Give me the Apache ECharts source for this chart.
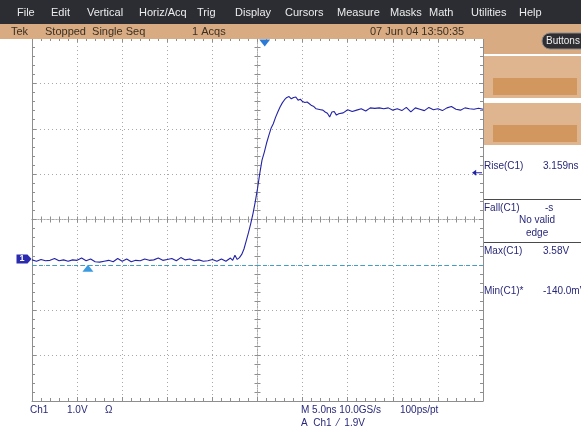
<!DOCTYPE html>
<html><head><meta charset="utf-8">
<script src="https://cdn.jsdelivr.net/npm/echarts@6/dist/echarts.min.js"></script>
<style>html,body{margin:0;padding:0;background:#fff}#c{width:581px;height:428px}</style>
</head><body><div id="c"></div>
<script>
// ---- data (time in ns, relative to screen centre; voltage in V) ----
const timeNs = [
 -25,-24.5,-24,-23.5,-23,-22.5,-22,-21.5,-21,-20.5,-20,-19.5,-19,-18.5,-18,-17.5,-17,-16.5,-16,-15.5,
 -15,-14.5,-14,-13.5,-13,-12.5,-12,-11.5,-11,-10.5,-10,-9.5,-9,-8.5,-8,-7.5,-7,-6.5,-6,-5.5,
 -5,-4.5,-4,-3.5,-3,-2.75,-2.5,-2.25,-2,-1.75,-1.5,-1.25,-1,-0.75,-0.5,-0.25,0,0.25,0.5,0.75,
 1,1.25,1.5,1.75,2,2.25,2.5,2.75,3,3.25,3.5,3.75,4,4.25,4.5,4.75,5,5.25,5.5,5.75,
 6,6.25,6.5,6.75,7,7.25,7.5,7.75,8,8.25,8.5,8.75,9,9.5,10,10.5,11,11.5,12,12.5,
 13,13.5,14,14.5,15,15.5,16,16.5,17,17.5,18,18.5,19,19.5,20,20.5,21,21.5,22,22.5,
 23,23.5,24,24.5,25
];
const voltsV = [
 -0.02,-0.05,-0.01,-0.04,-0.03,0.01,-0.04,-0.02,-0.05,-0.02,-0.03,0.02,-0.04,0.0,-0.06,-0.07,-0.05,-0.03,-0.06,0.01,
 -0.05,0.0,-0.06,-0.03,-0.04,0.0,-0.03,-0.02,0.02,-0.03,-0.01,0.01,-0.04,0.03,-0.02,0.0,-0.04,-0.02,-0.05,-0.04,
 -0.01,-0.05,0.0,-0.05,0.02,-0.03,0.08,-0.01,0.03,0.10,0.22,0.40,0.58,0.78,1.00,1.26,1.55,1.88,2.18,2.35,
 2.55,2.72,2.88,2.98,3.12,3.24,3.35,3.44,3.51,3.56,3.58,3.53,3.56,3.57,3.50,3.52,3.47,3.45,3.46,3.42,
 3.38,3.36,3.31,3.30,3.29,3.28,3.24,3.21,3.13,3.24,3.25,3.17,3.20,3.22,3.29,3.25,3.28,3.31,3.26,3.33,
 3.32,3.33,3.31,3.33,3.28,3.31,3.27,3.34,3.24,3.33,3.30,3.27,3.34,3.29,3.31,3.27,3.33,3.36,3.30,3.28,
 3.33,3.31,3.30,3.32,3.30
];
const minLevelV = -0.14;      // Min(C1)
const minAtNs = -18.8;
const trigLevelV = 1.9;       // A Ch1 / 1.9V
const trigPosNs = 0.8;
const voltRange = [-3.13, 4.87];  // 8 div at 1.0 V/div, ground offset
const timeRange = [-25, 25];      // 10 div at 5.0 ns/div

const menuItems = [['File',17],['Edit',51],['Vertical',87],['Horiz/Acq',139],['Trig',197],['Display',235],['Cursors',285],['Measure',337],['Masks',390],['Math',429],['Utilities',471],['Help',519]];

const gridC = '#a8a8a8', borderC = '#8e8e8e';
function hideAll(o){return Object.assign({axisLabel:{show:false},splitLine:{show:false},axisTick:{show:false},minorTick:{show:false}},o);}
const tickStyle = {lineStyle:{color:borderC,width:1}};

const xAxes = [
 hideAll({type:'value',min:timeRange[0],max:timeRange[1],interval:5,position:'bottom',
   axisLine:{onZero:false,lineStyle:{color:borderC}},
   axisTick:{show:true,inside:true,length:4,...tickStyle},
   minorTick:{show:true,splitNumber:5,length:3,...tickStyle},
   splitLine:{show:true,lineStyle:{color:gridC,type:[1,3],width:1}}}),
 hideAll({type:'value',min:timeRange[0],max:timeRange[1],interval:5,position:'top',
   axisLine:{onZero:false,lineStyle:{color:'#c8c8c8'}},
   axisTick:{show:true,inside:true,length:4,...tickStyle},
   minorTick:{show:true,splitNumber:5,length:3,...tickStyle}}),
 hideAll({type:'value',min:timeRange[0],max:timeRange[1],interval:5,position:'bottom',
   axisLine:{onZero:true,onZeroAxisIndex:0,lineStyle:{color:gridC,type:[1,2]}},
   axisTick:{show:true,inside:true,length:3,...tickStyle},
   minorTick:{show:true,splitNumber:5,length:3,...tickStyle}}),
 hideAll({type:'value',min:timeRange[0],max:timeRange[1],interval:5,position:'bottom',
   axisLine:{onZero:true,onZeroAxisIndex:0,lineStyle:{color:gridC,type:[1,2]}},
   axisTick:{show:true,inside:false,length:3,...tickStyle},
   minorTick:{show:true,splitNumber:5,length:3,...tickStyle}})
];
// note: minor ticks on outward axis point outward too
const yAxes = [
 hideAll({type:'value',min:-4,max:4,interval:1,position:'left',
   axisLine:{onZero:false,lineStyle:{color:borderC}},
   axisTick:{show:true,inside:true,length:4,...tickStyle},
   minorTick:{show:true,splitNumber:5,length:3,...tickStyle},
   splitLine:{show:true,lineStyle:{color:gridC,type:[1,3],width:1}}}),
 hideAll({type:'value',min:-4,max:4,interval:1,position:'right',
   axisLine:{onZero:false,lineStyle:{color:borderC}},
   axisTick:{show:true,inside:true,length:4,...tickStyle},
   minorTick:{show:true,splitNumber:5,length:3,...tickStyle}}),
 hideAll({type:'value',min:-4,max:4,interval:1,position:'left',
   axisLine:{onZero:true,onZeroAxisIndex:0,lineStyle:{color:gridC,type:[1,2]}},
   axisTick:{show:true,inside:true,length:3,...tickStyle},
   minorTick:{show:true,splitNumber:5,length:3,...tickStyle}}),
 hideAll({type:'value',min:-4,max:4,interval:1,position:'left',
   axisLine:{onZero:true,onZeroAxisIndex:0,lineStyle:{color:gridC,type:[1,2]}},
   axisTick:{show:true,inside:false,length:3,...tickStyle},
   minorTick:{show:true,splitNumber:5,length:3,...tickStyle}}),
 {type:'value',min:voltRange[0],max:voltRange[1],show:false,axisLine:{onZero:false},splitLine:{show:false}}
];

const F = 'Liberation Sans, Arial, sans-serif';
function txt(t,x,y,fill,size,extra){return Object.assign({type:'text',x:x,y:y,z:100,silent:true,style:{text:t,fill:fill,font:(size||11)+'px '+F,verticalAlign:'middle',align:'left'}},extra||{});}
function rect(x,y,w,h,fill,extra){return Object.assign({type:'rect',z:90,silent:true,shape:{x:x,y:y,width:w,height:h},style:{fill:fill}},extra||{});}

const navy = '#28287a';
const graphics = [
 rect(0,0,581,24,'#2c2d33'),
 rect(0,24,581,15,'#d9ab83'),
 rect(484,39,97,15,'#d9ab83'),
 rect(484,56,97,42,'#dfb590'),
 rect(493,78,84,17,'#d2965f',{z:91}),
 rect(484,103,97,42,'#dfb590'),
 rect(493,125,84,17,'#d2965f',{z:91}),
 {type:'rect',z:95,silent:true,shape:{x:542,y:33,width:50,height:16,r:8},style:{fill:'#2f2f33',stroke:'#8a8a8a',lineWidth:1}},
 txt('Buttons',546,41.5,'#f0f0f0',10,{z:101}),
 rect(484,199,97,1,'#4a4a4a'),
 rect(484,242,97,1,'#4a4a4a'),
 txt('Tek',11,32,'#3a3022',11),
 txt('Stopped  Single Seq',45,32,'#3a3022',11),
 txt('1 Acqs',192,32,'#3a3022',11),
 txt('07 Jun 04 13:50:35',370,32,'#3a3022',11),
 txt('Rise(C1)',484,166,navy,10),
 txt('3.159ns',543,166,navy,10),
 txt('Fall(C1)',484,208,navy,10),
 txt('-s',545,208,navy,10),
 txt('No valid',519,220,navy,10),
 txt('edge',526,233,navy,10),
 txt('Max(C1)',484,251,navy,10),
 txt('3.58V',543,251,navy,10),
 txt('Min(C1)*',484,291,navy,10),
 txt('-140.0mV',543,291,navy,10),
 txt('Ch1',30,410,navy,10),
 txt('1.0V',67,410,navy,10),
 txt('\u03A9',105,410,navy,10),
 txt('M 5.0ns 10.0GS/s',301,410,navy,10),
 txt('100ps/pt',400,410,navy,10),
 txt('A  Ch1  \u2044  1.9V',301,423,navy,10)
];
menuItems.forEach(m=>graphics.push(txt(m[0],m[1],12.5,'#ececec',11)));

const chart = echarts.init(document.getElementById('c'),null,{renderer:'canvas'});
chart.setOption({
 animation:false,
 backgroundColor:'#ffffff',
 grid:{left:32,top:38,width:451,height:363,containLabel:false},
 xAxis:xAxes,
 yAxis:yAxes,
 graphic:graphics,
 series:[{
   type:'line',xAxisIndex:0,yAxisIndex:4,showSymbol:false,smooth:false,z:10,
   lineStyle:{color:'#2323a8',width:1.1},
   data:timeNs.map((t,i)=>[t,voltsV[i]]),
   markLine:{silent:true,symbol:'none',label:{show:false},
     lineStyle:{color:'#3f9fc6',type:[4,3],width:1},
     data:[{yAxis:minLevelV}]},
   markPoint:{silent:true,label:{show:false},data:[
     {coord:[minAtNs,minLevelV],symbol:'triangle',symbolSize:[11,7],symbolOffset:[0,3],itemStyle:{color:'#3a9be0'}},
     {coord:[trigPosNs,voltRange[1]],symbol:'triangle',symbolRotate:180,symbolSize:[11,7],symbolOffset:[0,5],itemStyle:{color:'#2b7ad6'}},
     {coord:[timeRange[1],trigLevelV],symbol:'path://M0,5 L5,0 L5,4 L12,4 L12,6 L5,6 L5,10 Z',symbolSize:[10,6],symbolOffset:[-6,0],itemStyle:{color:'#2323a8'}},
     {coord:[timeRange[0],0],symbol:'path://M0,0 L11,0 L15,4.5 L11,9 L0,9 Z',symbolSize:[15,9],symbolOffset:[-8,0],itemStyle:{color:'#2b2bb0'},
      label:{show:true,formatter:'1',color:'#ffffff',fontSize:9,fontWeight:'bold',position:'inside',offset:[-2,0]}}
   ]}
 }]
});
</script></body></html>
